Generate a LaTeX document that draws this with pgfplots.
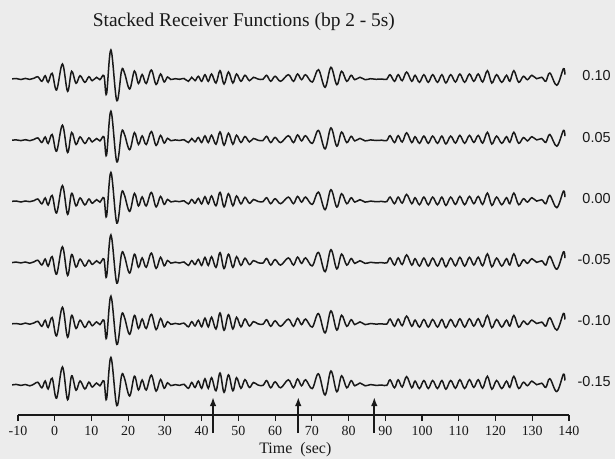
\documentclass[border=0pt]{standalone}
\usepackage{pgfplots}
\pgfplotsset{compat=1.18}
\usepackage{pgfplotstable}
\usepackage{fontspec}
\setmainfont{Liberation Serif}
\newfontfamily\labelsans{Liberation Sans}
\usetikzlibrary{arrows.meta}

\definecolor{paper}{RGB}{236,236,236}
\definecolor{ink}{RGB}{25,25,25}

% Stacked receiver functions, one column per ray parameter (amplitude in plot units)
\pgfplotstableread{
t      r10    r05    r00    m05    m10    m15
-11.6  0.0    0.0    0.0    0.0    0.0    0.0
-10.5  0.5    0.3    0.4    0.5    0.3    0.6
-9.2   -0.5   -0.4   -0.6   -0.3   -0.5   -0.4
-8.0   0.6    0.5    0.4    0.6    0.7    0.5
-6.8   -0.4   -0.5   -0.3   -0.6   -0.4   -0.8
-5.6   0.8    0.8    0.8    0.8    0.9    1.0
-4.6   2.3    2.3    2.4    2.4    2.5    2.8
-3.5   -2.3   -2.3   -2.4   -2.4   -2.5   -2.8
-2.6   3.3    3.3    3.5    3.5    3.6    4.0
-1.8   -3.3   -3.3   -3.5   -3.5   -3.6   -4.0
-0.7   5.7    5.7    6.0    6.0    6.3    6.8
0.5    -11.0  -11.0  -11.6  -11.6  -12.1  -13.2
2.1    15.0   15.0   15.8   15.8   16.5   18.0
3.5    -12.3  -12.3  -12.9  -12.9  -13.5  -14.8
4.6    7.7    7.7    8.1    8.1    8.5    9.2
5.8    -4.3   -4.3   -4.5   -4.5   -4.7   -5.2
6.9    3.3    3.3    3.5    3.5    3.6    4.0
8.2    -3.3   -3.3   -3.5   -3.5   -3.6   -4.0
9.3    2.3    2.3    2.4    2.4    2.5    2.8
10.2   -1.7   -1.7   -1.8   -1.8   -1.9   -2.0
11.4   1.7    1.7    1.8    1.8    1.9    2.0
12.3   -0.7   -0.7   -0.7   -0.7   -0.8   -0.8
13.4   3.3    3.3    3.5    3.5    3.6    4.0
14.1   -15.0  -15.0  -15.0  -14.3  -14.3  -14.3
15.3   29.0   29.0   29.0   27.6   27.6   27.6
16.9   -21.7  -21.7  -21.7  -20.6  -20.6  -20.6
18.2   8.5    8.1    8.5    8.9    8.9    9.4
19.0   6.0    5.7    6.0    6.3    6.3    6.6
20.4   -10.0  -9.5   -10.0  -10.5  -10.5  -11.0
21.7   8.0    7.6    8.0    8.4    8.4    8.8
22.8   -4.5   -4.3   -4.5   -4.7   -4.7   -5.0
23.8   4.5    4.3    4.5    4.7    4.7    5.0
24.9   -4.5   -4.3   -4.5   -4.7   -4.7   -5.0
26.3   9.0    8.6    9.0    9.5    9.5    9.9
27.6   -5.5   -5.2   -5.5   -5.8   -5.8   -6.1
28.8   5.0    4.8    5.0    5.3    5.3    5.5
29.8   -3.0   -2.9   -3.0   -3.2   -3.2   -3.3
30.7   2.0    1.9    2.0    2.1    2.1    2.2
31.6   -0.5   -0.5   -0.5   -0.5   -0.5   -0.6
32.8   0.3    0.3    0.3    0.4    0.4    0.4
34.0   -0.3   -0.3   -0.3   -0.4   -0.4   -0.4
35.2   0.5    0.5    0.6    0.6    0.7    0.7
36.4   -2.3   -2.3   -2.5   -2.8   -3.0   -3.3
37.3   1.7    1.7    1.9    2.0    2.2    2.5
38.2   -1.7   -1.7   -1.9   -2.0   -2.2   -2.5
39.1   2.7    2.7    3.0    3.2    3.5    3.9
40.0   -2.3   -2.3   -2.5   -2.8   -3.0   -3.3
40.9   4.3    4.3    4.7    5.2    5.6    6.2
41.8   -2.3   -2.3   -2.5   -2.8   -3.0   -3.3
42.7   5.0    5.0    5.5    6.0    6.5    7.3
43.9   -4.0   -4.0   -4.4   -4.8   -5.2   -5.8
45.0   8.3    8.3    9.1    10.0   10.8   12.0
46.1   -5.0   -5.0   -5.5   -6.0   -6.5   -7.3
47.3   7.0    7.0    7.7    8.4    9.1    10.2
48.5   -4.0   -4.0   -4.4   -4.8   -5.2   -5.8
49.5   5.0    5.0    5.5    6.0    6.5    7.3
50.7   -2.3   -2.3   -2.5   -2.8   -3.0   -3.3
51.8   3.7    3.7    4.1    4.4    4.8    5.4
53.0   -1.7   -1.7   -1.9   -2.0   -2.2   -2.5
54.1   1.7    1.7    1.9    2.0    2.2    2.5
55.3   0.0    0.0    0.0    0.0    0.0    0.0
56.7   -0.3   -0.3   -0.3   -0.4   -0.4   -0.4
57.7   3.7    3.9    3.7    4.1    4.1    4.4
58.8   -2.3   -2.4   -2.3   -2.5   -2.5   -2.8
60.0   2.7    2.8    2.7    3.0    3.0    3.2
61.5   -2.3   -2.4   -2.3   -2.5   -2.5   -2.8
63.6   4.3    4.5    4.3    4.7    4.7    5.2
65.0   -2.3   -2.4   -2.3   -2.5   -2.5   -2.8
66.1   5.0    5.3    5.0    5.5    5.5    6.0
67.2   -0.7   -0.7   -0.7   -0.8   -0.8   -0.8
68.3   4.3    4.5    4.3    4.7    4.7    5.2
70.1   -3.0   -3.2   -3.0   -3.3   -3.3   -3.6
71.8   9.3    9.8    9.3    10.2   10.2   11.2
73.6   -8.3   -8.7   -8.3   -9.1   -9.1   -10.0
75.2   11.7   12.3   11.7   12.9   12.9   14.0
76.8   -5.7   -6.0   -5.7   -6.3   -6.3   -6.8
78.1   7.7    8.1    7.7    8.5    8.5    9.2
79.5   -2.3   -2.4   -2.3   -2.5   -2.5   -2.8
80.7   3.7    3.9    3.7    4.1    4.1    4.4
81.7   -0.7   -0.7   -0.7   -0.8   -0.8   -0.8
83.1   1.7    1.8    1.7    1.9    1.9    2.0
84.5   -0.7   -0.7   -0.7   -0.8   -0.8   -0.8
86.0   0.3    0.3    0.3    0.3    0.3    0.4
87.5   -0.3   -0.3   -0.3   -0.3   -0.3   -0.4
89.0   0.0    0.0    0.0    0.0    0.0    0.0
90.4   -0.3   -0.3   -0.3   -0.3   -0.3   -0.4
91.3   4.3    4.5    4.3    4.7    4.7    5.2
92.5   -2.3   -2.4   -2.3   -2.5   -2.5   -2.8
93.5   4.3    4.5    4.3    4.7    4.7    5.2
94.6   -1.7   -1.8   -1.7   -1.9   -1.9   -2.0
95.8   7.0    7.4    7.0    7.7    7.7    8.4
97.2   -2.3   -2.4   -2.3   -2.5   -2.5   -2.8
98.1   3.7    3.5    3.7    3.9    3.7    3.9
99.3   -3.3   -3.1   -3.3   -3.5   -3.3   -3.5
100.5  4.3    4.1    4.3    4.5    4.3    4.5
101.7  -3.3   -3.1   -3.3   -3.5   -3.3   -3.5
102.9  4.3    4.1    4.3    4.5    4.3    4.5
104.2  -3.3   -3.1   -3.3   -3.5   -3.3   -3.5
105.4  4.3    4.1    4.3    4.5    4.3    4.5
106.5  -4.0   -3.8   -4.0   -4.2   -4.0   -4.2
107.8  4.3    4.1    4.3    4.5    4.3    4.5
109.1  -3.0   -2.9   -3.0   -3.2   -3.0   -3.2
110.3  5.0    4.8    5.0    5.3    5.0    5.3
111.6  -3.3   -3.1   -3.3   -3.5   -3.3   -3.5
112.9  5.0    4.8    5.0    5.3    5.0    5.3
114.1  -2.3   -2.2   -2.3   -2.4   -2.3   -2.4
115.3  5.0    4.8    5.0    5.3    5.0    5.3
116.5  -3.0   -2.9   -3.0   -3.2   -3.0   -3.2
117.8  8.3    7.9    8.3    8.7    8.3    8.7
119.0  -4.0   -3.8   -4.0   -4.2   -4.0   -4.2
120.3  4.3    4.1    4.3    4.5    4.3    4.5
121.7  -3.3   -3.1   -3.3   -3.5   -3.3   -3.5
123.0  3.7    3.5    3.7    3.9    3.7    3.9
123.9  -2.3   -2.2   -2.3   -2.4   -2.3   -2.4
125.0  8.3    7.9    8.3    8.7    8.3    8.7
126.3  -3.3   -3.1   -3.3   -3.5   -3.3   -3.5
127.6  2.7    2.6    2.7    2.8    2.7    2.8
128.7  -0.7   -0.7   -0.7   -0.7   -0.7   -0.7
129.9  3.7    3.5    3.7    3.9    3.7    3.9
131.2  0.3    0.3    0.3    0.3    0.3    0.3
132.6  1.7    1.6    1.7    1.8    1.7    1.8
133.7  -2.3   -2.2   -2.3   -2.4   -2.3   -2.4
134.8  6.0    5.7    6.0    6.3    6.0    6.3
136.7  -6.3   -6.0   -6.3   -6.6   -6.3   -6.6
138.5  10.3   9.8    10.3   10.8   10.3   10.8
138.9  4.3    4.1    4.3    4.5    4.3    4.5
}\traces

% Arrival markers below the bottom trace
\pgfplotstableread{
x     y     v
43.1  -18   36
66.3  -18   36
87.0  -18   36
}\arrivals

\begin{document}
\begin{tikzpicture}
\fill[paper] (0,0) rectangle (615bp,459bp);
\begin{axis}[
  at={(18bp,44bp)}, anchor=south west,
  x=3.673bp, y=1bp,
  xmin=-10, xmax=140, ymin=0, ymax=380,
  clip=false,
  axis x line*=bottom,
  axis y line=none,
  axis line style={ink, line width=1.4bp},
  xtick={-10,0,...,140},
  xticklabels={-10,0,10,20,30,40,50,60,70,80,90,100,110,120,130,140},
  tick align=outside,
  major tick length=6bp,
  tick style={ink, line width=1.1bp},
  x tick label style={font=\fontsize{14}{16}\selectfont, text=ink, yshift=-2bp},
  trace/.style={ink, line width=1.5bp, smooth, tension=0.6, no markers},
]
\addplot[trace] table[x=t, y expr=\thisrow{r10}+336] {\traces};
\addplot[trace] table[x=t, y expr=\thisrow{r05}+274.8] {\traces};
\addplot[trace] table[x=t, y expr=\thisrow{r00}+213.6] {\traces};
\addplot[trace] table[x=t, y expr=\thisrow{m05}+152.4] {\traces};
\addplot[trace] table[x=t, y expr=\thisrow{m10}+91.2] {\traces};
\addplot[trace] table[x=t, y expr=\thisrow{m15}+30] {\traces};

\addplot[ink, no markers, quiver={u=0, v=\thisrow{v},
  every arrow/.append style={-{Latex[length=9bp,width=6.5bp]}, line width=2.2bp}}]
  table[x=x, y=y] {\arrivals};

\begin{scope}[every node/.style={anchor=east, text=ink, font=\labelsans\fontsize{14.5}{16}\selectfont}]
\node at (axis cs:152.3,339) {0.10};
\node at (axis cs:152.3,277.8) {0.05};
\node at (axis cs:152.3,216.6) {0.00};
\node at (axis cs:152.3,155.4) {-0.05};
\node at (axis cs:152.3,94.2) {-0.10};
\node at (axis cs:152.3,33) {-0.15};
\end{scope}

\node[text=ink, font=\fontsize{16}{18}\selectfont] at (axis cs:65.5,-35) {Time\ \ (sec)};
\node[text=ink, font=\fontsize{19.5}{22}\selectfont] at (axis cs:51.5,393) {Stacked Receiver Functions (bp 2 - 5s)};
\end{axis}
\pgfresetboundingbox
\path (0,0) rectangle (615bp,459bp);
\end{tikzpicture}
\end{document}
